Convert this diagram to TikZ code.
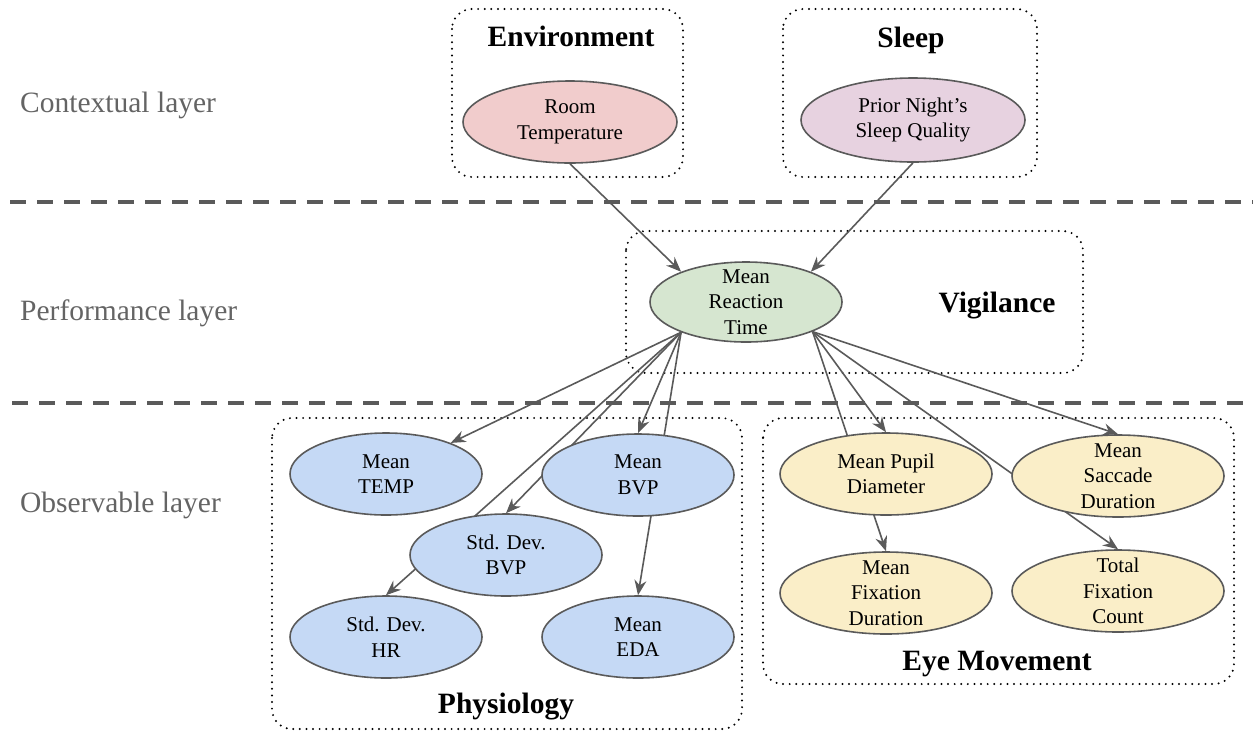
\documentclass[tikz,border=0pt]{standalone}
\usepackage{fontspec}
\setmainfont{Liberation Serif}
\usetikzlibrary{shapes.geometric,arrows.meta,backgrounds}
\definecolor{edgegray}{RGB}{90,90,90}
\definecolor{redfill}{RGB}{241,204,204}
\definecolor{purplefill}{RGB}{231,210,224}
\definecolor{greenfill}{RGB}{214,230,208}
\definecolor{bluefill}{RGB}{197,217,245}
\definecolor{yellowfill}{RGB}{250,238,200}
\definecolor{labelgray}{RGB}{100,100,100}
\tikzset{
  ell/.style={ellipse, draw=edgegray, line width=1.6pt, inner sep=-15pt, align=center,
              font=\fontsize{21}{25.5}\selectfont},
  phys/.style={ell, fill=bluefill, minimum width=192pt, minimum height=82pt},
  eye/.style={ell, fill=yellowfill, minimum width=212pt, minimum height=82pt},
  grp/.style={draw=black, line width=2.2pt, dash pattern=on 0pt off 6.6pt, line cap=round, rounded corners=20pt},
  sep/.style={draw=edgegray, line width=4pt, dash pattern=on 16pt off 11pt},
  arr/.style={draw=edgegray, line width=1.6pt, -{Stealth[length=15pt,width=12pt,inset=5pt]}},
  title/.style={font=\fontsize{29.5}{33}\selectfont\bfseries, inner sep=0pt, anchor=base},
  layer/.style={font=\fontsize{29.5}{33}\selectfont, text=labelgray, inner sep=0pt, anchor=base west}
}
\begin{document}
\begin{tikzpicture}[x=1pt, y=-1pt]
\useasboundingbox (0,0) rectangle (1253,732);
\begin{pgfonlayer}{background}
  \draw[grp] (452,9) rectangle (683,177);
  \draw[grp] (783,9) rectangle (1037,177);
  \draw[grp] (626,231) rectangle (1083,373);
  \draw[grp] (272,418) rectangle (742,729);
  \draw[grp] (763,418) rectangle (1234,684);
  \draw[sep] (10,202) -- (1253,202);
  \draw[sep] (12,403) -- (1253,403);
\end{pgfonlayer}

% layer labels
\node[layer] (lctx) at (20,112) {Contextual layer};
\node[layer] (lperf) at (20,320) {Performance layer};
\node[layer] (lobs) at (20,512) {Observable layer};

% group titles
\node[title] (tenv) at (571,46) {Environment};
\node[title] (tsleep) at (911,47) {Sleep};
\node[title] (tvig) at (997,312) {Vigilance};
\node[title] (tphys) at (506,713) {Physiology};
\node[title] (teye) at (997,670) {Eye Movement};

% nodes
\node[ell, fill=redfill, minimum width=214pt, minimum height=82pt] (room) at (570,122) {Room\\Temperature};
\node[ell, fill=purplefill, minimum width=224pt, minimum height=84pt] (sleep) at (913,120) {Prior Night’s\\Sleep Quality};
\node[ell, fill=greenfill, minimum width=192pt, minimum height=80pt] (mrt) at (746,302) {Mean\\Reaction\\Time};

\node[phys] (temp) at (386,474) {Mean\\TEMP};
\node[phys] (mbvp) at (638,475) {Mean\\BVP};
\node[phys] (sbvp) at (506,555) {Std. Dev.\\BVP};
\node[phys] (shr) at (386,637) {Std. Dev.\\HR};
\node[phys] (eda) at (638,637) {Mean\\EDA};

\node[eye] (pupil) at (886,474) {Mean Pupil\\Diameter};
\node[eye] (sacc) at (1118,476) {Mean\\Saccade\\Duration};
\node[eye] (fixd) at (886,593) {Mean\\Fixation\\Duration};
\node[eye] (fixc) at (1118,591) {Total\\Fixation\\Count};

\begin{pgfonlayer}{background}
  \draw[arr] (room.south) -- (mrt.155);
  \draw[arr] (sleep.south) -- (mrt.25);
  \draw[arr] (mrt.205) -- (temp);
  \draw[arr] (mrt.205) -- (sbvp.north);
  \draw[arr] (mrt.205) -- (shr.north);
  \draw[arr] (mrt.205) -- (mbvp.north);
  \draw[arr] (mrt.205) -- (eda.north);
  \draw[arr] (mrt.-24) -- (pupil.north);
  \draw[arr] (mrt.-24) -- (fixd.north);
  \draw[arr] (mrt.-24) -- (sacc.north);
  \draw[arr] (mrt.-24) -- (fixc.north);
\end{pgfonlayer}
\end{tikzpicture}
\end{document}
